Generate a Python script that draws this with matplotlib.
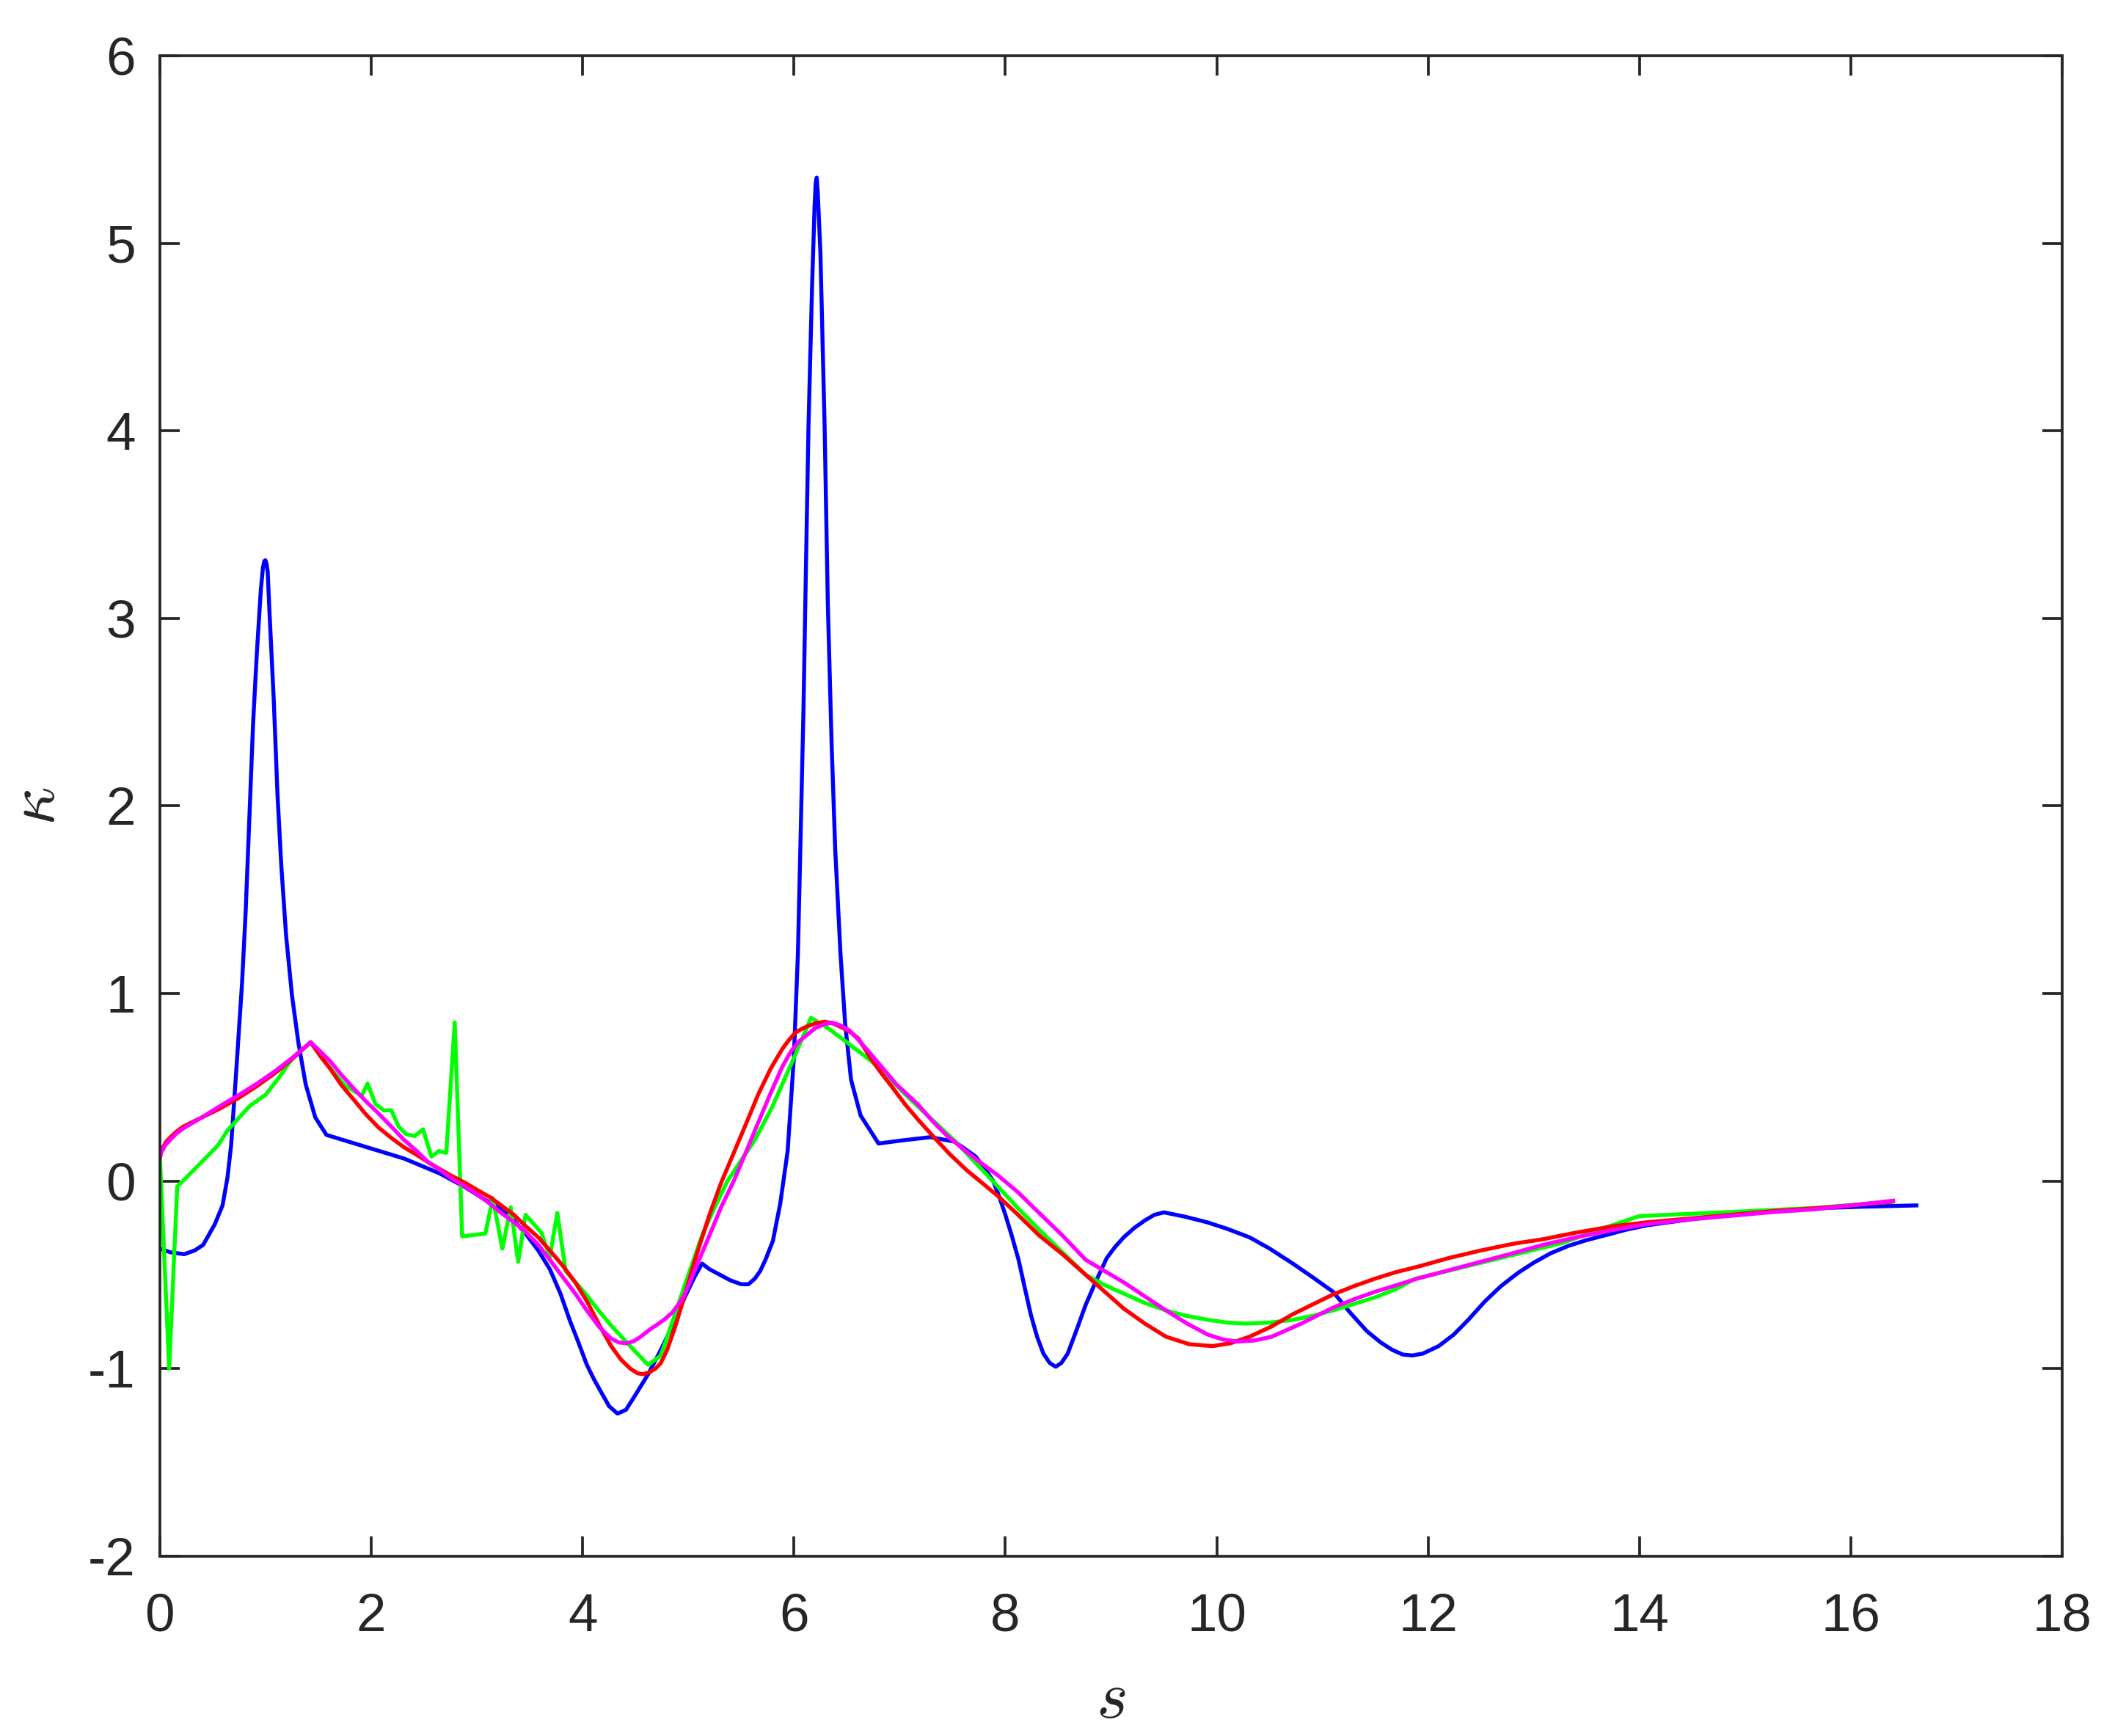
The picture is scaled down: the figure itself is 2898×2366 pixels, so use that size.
import matplotlib
matplotlib.use("Agg")
import matplotlib.pyplot as plt

# curvature kappa versus arc length s, four curves
s_blue = [0.0, 0.1, 0.23, 0.33, 0.41, 0.52, 0.593, 0.64, 0.674, 0.72,
          0.778, 0.812, 0.847, 0.882, 0.917, 0.955, 0.975, 0.988, 0.998, 1.008,
          1.02, 1.035, 1.078, 1.113, 1.148, 1.194, 1.25, 1.31, 1.38, 1.47,
          1.576, 1.96, 2.31, 2.65, 2.88, 3.05, 3.23, 3.35, 3.46, 3.58,
          3.69, 3.79, 3.88, 3.96, 4.04, 4.11, 4.18, 4.25, 4.33, 4.41,
          4.5, 4.62, 4.74, 4.86, 4.97, 5.06, 5.13, 5.2, 5.3, 5.4,
          5.5, 5.57, 5.63, 5.68, 5.73, 5.80, 5.87, 5.94, 5.998, 6.037,
          6.06, 6.09, 6.113, 6.137, 6.171, 6.195, 6.205, 6.215, 6.225, 6.25,
          6.29, 6.32, 6.356, 6.39, 6.44, 6.484, 6.54, 6.63, 6.80, 7.0,
          7.29, 7.52, 7.62, 7.72, 7.8, 7.885, 7.94, 8.0, 8.06, 8.125,
          8.18, 8.24, 8.3, 8.36, 8.42, 8.476, 8.53, 8.59, 8.67, 8.76,
          8.86, 8.96, 9.04, 9.12, 9.22, 9.32, 9.41, 9.5, 9.7, 9.91,
          10.1, 10.31, 10.5, 10.72, 10.9, 11.1, 11.26, 11.42, 11.55, 11.66,
          11.76, 11.85, 11.95, 12.1, 12.24, 12.38, 12.54, 12.69, 12.85, 13.0,
          13.16, 13.33, 13.5, 13.67, 13.87, 14.07, 14.47, 14.87, 15.27, 15.67,
          16.1, 16.62]
k_blue = [-0.36, -0.38, -0.39, -0.37, -0.34, -0.23, -0.13, 0.02, 0.19, 0.565,
          1.06, 1.44, 1.94, 2.44, 2.81, 3.15, 3.27, 3.305, 3.31, 3.295,
          3.25, 3.06, 2.56, 2.06, 1.69, 1.31, 0.99, 0.74, 0.515, 0.34,
          0.246, 0.18, 0.12, 0.04, -0.03, -0.09, -0.15, -0.21, -0.28, -0.37,
          -0.47, -0.6, -0.745, -0.86, -0.98, -1.06, -1.13, -1.2, -1.24, -1.22,
          -1.14, -1.03, -0.9, -0.76, -0.615, -0.51, -0.44, -0.47, -0.5, -0.53,
          -0.55, -0.55, -0.52, -0.48, -0.42, -0.32, -0.12, 0.16, 0.65, 1.21,
          1.77, 2.52, 3.27, 4.02, 4.77, 5.2, 5.32, 5.35, 5.27, 4.95,
          4.02, 3.08, 2.33, 1.77, 1.21, 0.84, 0.54, 0.35, 0.20, 0.215,
          0.234, 0.21, 0.17, 0.13, 0.07, 0.0, -0.08, -0.18, -0.29, -0.42,
          -0.56, -0.71, -0.83, -0.92, -0.97, -0.99, -0.97, -0.92, -0.8, -0.66,
          -0.53, -0.41, -0.35, -0.30, -0.25, -0.21, -0.18, -0.167, -0.19, -0.22,
          -0.255, -0.30, -0.36, -0.44, -0.51, -0.59, -0.7, -0.80, -0.86, -0.90,
          -0.925, -0.93, -0.92, -0.88, -0.82, -0.74, -0.64, -0.56, -0.49, -0.435,
          -0.385, -0.345, -0.315, -0.29, -0.26, -0.236, -0.205, -0.178, -0.16, -0.145,
          -0.137, -0.13]

s_green = [0.0, 0.088, 0.164, 0.34, 0.55, 0.64, 0.85, 1.0, 1.125, 1.26,
           1.43, 1.52, 1.6, 1.75, 1.91, 1.965, 2.04, 2.12, 2.19, 2.26,
           2.33, 2.41, 2.49, 2.57, 2.64, 2.71, 2.79, 2.86, 3.08, 3.15,
           3.24, 3.32, 3.39, 3.46, 3.61, 3.69, 3.76, 3.84, 4.04, 4.15,
           4.27, 4.4, 4.5, 4.62, 4.74, 4.85, 4.97, 5.13, 5.25, 5.37,
           5.5, 5.63, 5.79, 5.9, 6.01, 6.1, 6.16, 6.31, 6.5, 6.73,
           6.93, 7.13, 7.33, 7.53, 7.73, 7.93, 8.12, 8.32, 8.54, 8.76,
           8.94, 9.12, 9.32, 9.52, 9.72, 9.92, 10.1, 10.27, 10.5, 10.72,
           10.9, 11.1, 11.3, 11.5, 11.7, 11.88, 12.18, 12.47, 12.87, 13.27,
           13.47, 13.67, 13.85, 14.0, 14.87, 15.67, 16.4]
k_green = [0.13, -1.0, -0.03, 0.07, 0.19, 0.27, 0.40, 0.46, 0.55, 0.66,
           0.74, 0.67, 0.61, 0.51, 0.455, 0.52, 0.41, 0.377, 0.377, 0.29,
           0.25, 0.24, 0.275, 0.13, 0.16, 0.15, 0.846, -0.295, -0.28, -0.09,
           -0.36, -0.14, -0.43, -0.18, -0.275, -0.405, -0.17, -0.48, -0.61, -0.69,
           -0.77, -0.85, -0.91, -0.98, -0.93, -0.75, -0.55, -0.29, -0.14, 0.0,
           0.11, 0.22, 0.39, 0.53, 0.67, 0.79, 0.87, 0.82, 0.74, 0.64,
           0.53, 0.42, 0.315, 0.21, 0.09, -0.03, -0.145, -0.26, -0.38, -0.50,
           -0.555, -0.60, -0.65, -0.69, -0.72, -0.74, -0.755, -0.76, -0.755, -0.74,
           -0.72, -0.69, -0.655, -0.62, -0.575, -0.52, -0.48, -0.44, -0.385, -0.33,
           -0.29, -0.25, -0.215, -0.187, -0.165, -0.143, -0.11]

s_red = [0.0, 0.015, 0.03, 0.06, 0.106, 0.16, 0.22, 0.4, 0.57, 0.75,
         0.92, 1.1, 1.26, 1.426, 1.52, 1.61, 1.72, 1.84, 1.95, 2.07,
         2.19, 2.31, 2.43, 2.54, 2.66, 2.77, 2.89, 3.0, 3.12, 3.23,
         3.35, 3.46, 3.58, 3.69, 3.81, 3.93, 4.04, 4.16, 4.27, 4.36,
         4.45, 4.52, 4.57, 4.63, 4.69, 4.74, 4.8, 4.88, 4.97, 5.08,
         5.2, 5.31, 5.43, 5.55, 5.66, 5.78, 5.89, 5.95, 6.01, 6.07,
         6.125, 6.2, 6.29, 6.37, 6.45, 6.53, 6.61, 6.72, 6.82, 6.93,
         7.05, 7.17, 7.33, 7.48, 7.63, 7.78, 7.93, 8.12, 8.32, 8.54,
         8.76, 8.94, 9.12, 9.32, 9.52, 9.74, 9.96, 10.13, 10.31, 10.52,
         10.72, 10.9, 11.1, 11.3, 11.5, 11.7, 11.9, 12.2, 12.5, 12.8,
         13.09, 13.4, 13.76, 14.07, 14.47, 14.87, 15.27, 15.67, 16.0, 16.38]
k_red = [0.12, 0.16, 0.18, 0.21, 0.237, 0.265, 0.29, 0.34, 0.387, 0.445,
         0.507, 0.58, 0.655, 0.74, 0.665, 0.6, 0.51, 0.43, 0.355, 0.285,
         0.23, 0.18, 0.14, 0.10, 0.06, 0.025, -0.01, -0.047, -0.085, -0.13,
         -0.18, -0.24, -0.3, -0.37, -0.45, -0.54, -0.64, -0.77, -0.88, -0.95,
         -1.0, -1.025, -1.03, -1.02, -1.0, -0.97, -0.9, -0.77, -0.6, -0.39,
         -0.18, -0.01, 0.15, 0.31, 0.46, 0.6, 0.705, 0.75, 0.79, 0.81,
         0.825, 0.84, 0.85, 0.84, 0.82, 0.795, 0.76, 0.66, 0.58, 0.5,
         0.41, 0.33, 0.23, 0.14, 0.06, -0.01, -0.08, -0.18, -0.29, -0.39,
         -0.50, -0.59, -0.68, -0.76, -0.83, -0.87, -0.88, -0.865, -0.83, -0.775,
         -0.71, -0.66, -0.605, -0.56, -0.52, -0.485, -0.457, -0.41, -0.37, -0.335,
         -0.31, -0.275, -0.24, -0.22, -0.2, -0.18, -0.16, -0.145, -0.13, -0.11]

s_magenta = [0.0, 0.01, 0.05, 0.106, 0.16, 0.22, 0.4, 0.57, 0.75, 0.92,
             1.1, 1.26, 1.426, 1.52, 1.61, 1.72, 1.84, 1.95, 2.07, 2.19,
             2.31, 2.43, 2.54, 2.66, 2.77, 2.89, 3.0, 3.12, 3.23, 3.35,
             3.46, 3.58, 3.69, 3.81, 3.93, 4.04, 4.16, 4.27, 4.34, 4.41,
             4.48, 4.55, 4.64, 4.72, 4.78, 4.85, 4.91, 4.97, 5.08, 5.2,
             5.31, 5.43, 5.55, 5.66, 5.78, 5.89, 5.97, 6.05, 6.125, 6.2,
             6.28, 6.36, 6.44, 6.52, 6.59, 6.7, 6.82, 6.97, 7.17, 7.31,
             7.45, 7.69, 7.93, 8.12, 8.32, 8.54, 8.76, 8.94, 9.12, 9.32,
             9.52, 9.72, 9.92, 10.06, 10.2, 10.36, 10.52, 10.8, 11.1, 11.3,
             11.5, 11.7, 11.9, 12.2, 12.5, 12.8, 13.09, 13.4, 13.76, 14.07,
             14.47, 14.87, 15.27, 15.67, 16.0, 16.4]
k_magenta = [0.13, 0.15, 0.19, 0.225, 0.255, 0.28, 0.34, 0.40, 0.46, 0.52,
             0.59, 0.66, 0.74, 0.69, 0.64, 0.565, 0.49, 0.425, 0.36, 0.29,
             0.22, 0.16, 0.10, 0.055, 0.01, -0.03, -0.07, -0.12, -0.17, -0.22,
             -0.27, -0.34, -0.42, -0.51, -0.6, -0.69, -0.78, -0.84, -0.86, -0.865,
             -0.855, -0.83, -0.79, -0.76, -0.735, -0.7, -0.655, -0.6, -0.45, -0.29,
             -0.14, 0.0, 0.16, 0.31, 0.47, 0.61, 0.69, 0.746, 0.78, 0.815,
             0.835, 0.845, 0.83, 0.805, 0.765, 0.695, 0.615, 0.515, 0.41, 0.32,
             0.24, 0.13, 0.03, -0.06, -0.17, -0.29, -0.42, -0.48, -0.54, -0.615,
             -0.69, -0.76, -0.82, -0.845, -0.856, -0.85, -0.83, -0.76, -0.675, -0.63,
             -0.59, -0.555, -0.52, -0.475, -0.43, -0.385, -0.34, -0.3, -0.26, -0.23,
             -0.205, -0.185, -0.165, -0.15, -0.13, -0.105]

x_ticks = [0, 2, 4, 6, 8, 10, 12, 14, 16, 18]
y_ticks = [-2, -1, 0, 1, 2, 3, 4, 5, 6]

axcol = "#262626"
plt.rcParams["font.family"] = ["Liberation Sans", "DejaVu Sans"]
plt.rcParams["mathtext.fontset"] = "cm"

fig = plt.figure(figsize=(9.66, 7.8867), dpi=300)
ax = fig.add_axes([0.0752, 0.1036, 0.8948, 0.8643])

lw = 1.3
ax.plot(s_blue, k_blue, color="#0000FF", lw=lw)
ax.plot(s_green, k_green, color="#00FF00", lw=lw)
ax.plot(s_red, k_red, color="#FF0000", lw=lw)
ax.plot(s_magenta, k_magenta, color="#FF00FF", lw=lw)

ax.set_xlim(0, 18)
ax.set_ylim(-2, 6)
ax.set_xticks(x_ticks)
ax.set_yticks(y_ticks)
ax.set_xticklabels([str(v) for v in x_ticks])
ax.set_yticklabels([str(v) for v in y_ticks])

# matlab-ish box with inward ticks on all sides
for sp in ax.spines.values():
    sp.set_color(axcol)
    sp.set_linewidth(0.9)
ax.tick_params(direction="in", length=6.5, width=0.9, color=axcol,
               labelcolor=axcol, labelsize=17.5, top=True, right=True)
ax.tick_params(axis="x", pad=12)
ax.tick_params(axis="y", pad=8)

ax.set_xlabel(r"$s$", fontsize=22, color=axcol)
ax.set_ylabel(r"$\kappa$", fontsize=22, color=axcol)
ax.xaxis.set_label_coords(0.5, -0.075)
ax.yaxis.set_label_coords(-0.048, 0.5)

plt.savefig("out.png", dpi=300, facecolor="white")
